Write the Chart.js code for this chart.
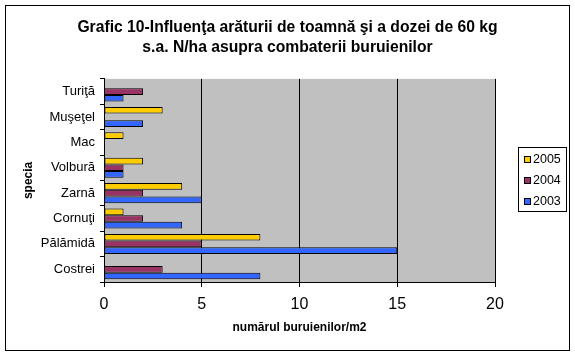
<!DOCTYPE html>
<html><head><meta charset="utf-8">
<script src="https://cdn.jsdelivr.net/npm/chart.js@4/dist/chart.umd.min.js"></script>
<style>html,body{margin:0;padding:0;background:#fff;overflow:hidden}</style>
</head><body>
<canvas id="c" width="575" height="356" style="display:block;width:575px;height:356px"></canvas>
<script>
const categories = ["Turiţă","Muşeţel","Mac","Volbură","Zarnă","Cornuţi","Pălămidă","Costrei"];
const seriesNames = ["2005","2004","2003"];
const values2005 = [0,3,1,2,4,1,8,0];
const values2004 = [2,0,0,1,2,2,5,3];
const values2003 = [1,2,0,1,5,4,15,8];
const xTicks = [0,5,10,15,20];
const titleLines = ["Grafic 10-Influenţa arăturii de toamnă şi a dozei de 60 kg","s.a. N/ha asupra combaterii buruienilor"];
const xTitle = "numărul buruienilor/m2";
const yTitle = "specia";

const FONT = "'Liberation Sans', Arial, sans-serif";
const colors = ["#FFCC00","#993366","#3366FF"];
const seriesValues = [values2005, values2004, values2003];

const bgPlugin = {
  id: 'bg',
  beforeDraw(chart) {
    const ctx = chart.ctx, a = chart.chartArea;
    ctx.save();
    ctx.fillStyle = '#fff';
    ctx.fillRect(0, 0, chart.width, chart.height);
    ctx.fillStyle = '#C0C0C0';
    ctx.fillRect(a.left, a.top, a.right - a.left, a.bottom - a.top);
    ctx.strokeStyle = '#000';
    ctx.lineWidth = 1;
    ctx.strokeRect(5.5, 5.5, 564, 345);
    ctx.restore();
  }
};

const legendPlugin = {
  id: 'boxLegend',
  afterDraw(chart) {
    const ctx = chart.ctx, a = chart.chartArea;
    const left = Math.round(a.right) + 23;
    const cy = (a.top + a.bottom) / 2;
    const top = Math.round(cy - 33);
    ctx.save();
    ctx.strokeStyle = '#000';
    ctx.lineWidth = 1;
    ctx.strokeRect(left + 0.5, top + 0.5, 48, 64);
    ctx.font = "12.5px " + FONT;
    ctx.textBaseline = 'middle';
    ctx.fillStyle = '#000';
    chart.data.datasets.forEach((ds, i) => {
      const y = top + 12 + i * 21;
      ctx.fillStyle = ds.backgroundColor;
      ctx.fillRect(left + 6, y - 3, 7, 7);
      ctx.strokeRect(left + 6.5, y - 2.5, 6, 6);
      ctx.fillStyle = '#000';
      ctx.fillText(ds.label, left + 15, y + 0.5);
    });
    ctx.restore();
  }
};

new Chart(document.getElementById('c'), {
  type: 'bar',
  data: {
    labels: categories,
    datasets: seriesNames.map((n, i) => ({
      label: n,
      data: seriesValues[i],
      backgroundColor: colors[i],
      borderColor: '#000',
      borderWidth: 1,
      borderSkipped: false,
      categoryPercentage: 0.79,
      barPercentage: 1.0
    }))
  },
  options: {
    indexAxis: 'y',
    responsive: false,
    devicePixelRatio: 1,
    animation: false,
    layout: { padding: { left: 6, right: 6, top: 5, bottom: 6 } },
    plugins: {
      legend: { display: false },
      tooltip: { enabled: false },
      title: {
        display: true,
        text: titleLines,
        color: '#000',
        font: { family: FONT, size: 15.7, weight: 'bold', lineHeight: 1.27 },
        padding: { top: 13, bottom: 21 }
      }
    },
    scales: {
      x: {
        min: 0, max: 20,
        afterBuildTicks(s) { s.ticks = xTicks.map(v => ({ value: v })); },
        ticks: { color: '#000', font: { family: FONT, size: 16 }, padding: 8, maxRotation: 0 },
        grid: { color: '#000', lineWidth: 1, tickLength: 5, drawTicks: true },
        border: { color: '#000', width: 1 },
        title: { display: true, text: xTitle, color: '#000', font: { family: FONT, size: 12, weight: 'bold' }, padding: { top: 0, bottom: 15 } },
        afterFit(s) { s.height = 68; s.paddingLeft = 0; s.paddingRight = 0; }
      },
      y: {
        ticks: { color: '#000', font: { family: FONT, size: 13 }, padding: 5 },
        grid: { offset: true, drawOnChartArea: false, color: '#000', tickLength: 4 },
        border: { color: '#000', width: 1 },
        title: { display: true, text: yTitle, color: '#000', font: { family: FONT, size: 12, weight: 'bold' }, padding: { top: 15, bottom: 0 } },
        afterFit(s) { s.width = 98; s.paddingTop = 0; s.paddingBottom = 0; }
      },
      legendSpace: {
        type: 'category',
        axis: 'y',
        position: 'right',
        display: true,
        ticks: { display: false },
        grid: { display: false, drawTicks: false },
        border: { display: false },
        afterFit(s) { s.width = 74; s.paddingTop = 0; s.paddingBottom = 0; }
      }
    }
  },
  plugins: [bgPlugin, legendPlugin]
});
</script>
</body></html>
